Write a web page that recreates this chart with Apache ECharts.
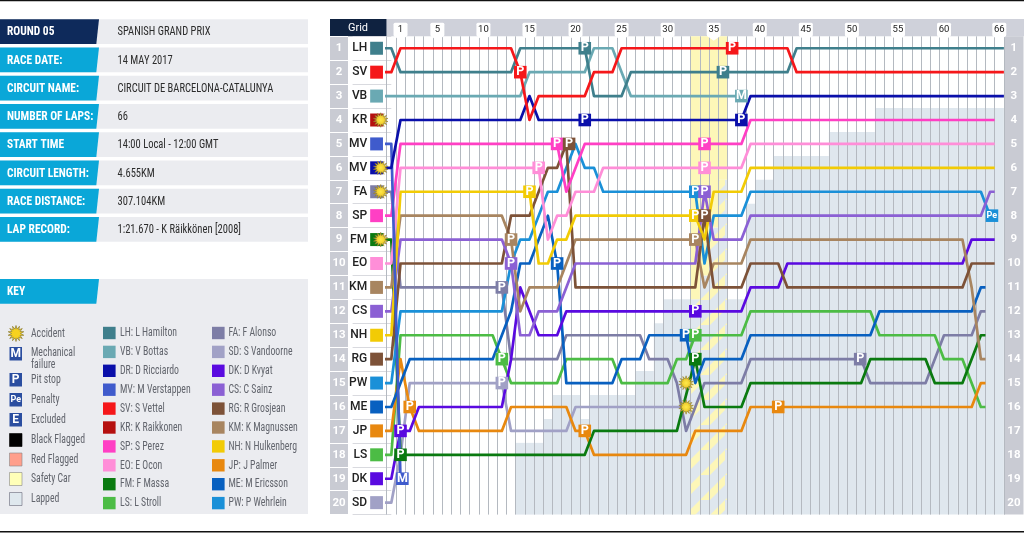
<!DOCTYPE html>
<html><head><meta charset="utf-8">
<style>html,body{margin:0;padding:0;background:#fff}#c{width:1024px;height:533px}</style>
<script src="https://cdn.jsdelivr.net/npm/echarts@6/dist/echarts.min.js"></script>
</head><body><div id="c"></div>
<script>
// ---------- data ----------
const gridCodes = ['LH','SV','VB','KR','MV','MV','FA','SP','FM','EO','KM','CS','NH','RG','PW','ME','JP','LS','DK','SD'];
const gridDrivers = ['LH','SV','VB','KR','MV','DR','FA','SP','FM','EO','KM','CS','NH','RG','PW','ME','JP','LS','DK','SD'];
const lapTicks = [1,5,10,15,20,25,30,35,40,45,50,55,60,66];
const colors = {LH:'#3f7f8c',VB:'#6aa9b3',DR:'#0a0faa',MV:'#3f5bcc',SV:'#f5171a',KR:'#b5100f',SP:'#ff3fc4',EO:'#ff8ed8',FM:'#0a7a10',LS:'#4cbc45',
                FA:'#7d7da6',SD:'#a1a1c6',DK:'#5a0ae0',CS:'#8b60d4',RG:'#7d5238',KM:'#a88560',NH:'#f2cb05',JP:'#e8880f',ME:'#0860c0',PW:'#1a90d8'};

// [lap, position] at each change of position
const LH=[[0,1],[1,2],[13,2],[14,1],[21,1],[22,3],[25,3],[26,2],[43,2],[44,1],[66.5,1]];
const SV=[[0,2],[1,1],[13,1],[14,2],[15,4],[16,3],[21,3],[22,2],[24,2],[25,1],[43,1],[44,2],[66.5,2]];
const VB=[[0,3],[14,3],[15,2],[21,2],[22,1],[24,1],[25,2],[26,3],[38,3]];
const DR=[[0,6],[1,4],[14,4],[15,3],[16,4],[38,4],[39,3],[66.5,3]];
const MV=[[0,5],[1,19]];
const FA=[[0,7],[1,11],[12,11],[13,14],[18,14],[19,13],[27,13],[28,14],[30,14],[31,15],[32,17],[33,16],[34,15],[38,15],[39,14],[51,14],[52,15],[58,15],[60,13],[63,13],[64,12],[64.5,12]];
const SD=[[0,20],[1,18],[2,15],[12,15],[13,17],[19,17],[20,16],[32,16]];
const DK=[[0,19],[1,17],[2,17],[3,16],[12,16],[13,14],[14,11],[15,12],[16,13],[18,13],[19,12],[38,12],[39,11],[42,11],[43,10],[62,10],[63,9],[65.5,9]];
const CS=[[0,12],[1,9],[12,9],[13,10],[14,13],[15,13],[16,12],[18,12],[19,11],[20,10],[33,10],[34,7],[35,9],[38,9],[39,8],[64,8],[65,7],[65.5,7]];
const RG=[[0,14],[1,10],[12,10],[13,8],[15,8],[16,7],[17,6],[18,6],[19,5],[20,11],[33,11],[34,8],[35,11],[38,11],[39,10],[42,10],[43,11],[62,11],[63,10],[65.5,10]];
const KM=[[0,11],[1,8],[12,8],[13,9],[14,12],[15,11],[18,11],[19,10],[20,9],[33,9],[34,11],[35,10],[38,10],[39,9],[62,9],[63,11],[64,14],[64.5,14]];
const NH=[[0,13],[1,7],[15,7],[16,10],[17,10],[18,9],[19,9],[20,8],[33,8],[34,9],[35,7],[38,7],[39,6],[65.5,6]];
const JP=[[0,17],[1,14],[2,16],[3,17],[12,17],[13,16],[19,16],[20,17],[21,17],[22,18],[32,18],[33,17],[38,17],[39,16],[63,16],[64,15],[64.5,15]];
const ME=[[0,16],[1,15],[2,14],[11,14],[12,13],[13,12],[14,10],[15,10],[16,9],[17,8],[18,10],[19,15],[24,15],[25,14],[27,14],[28,13],[32,13],[33,15],[34,14],[38,14],[39,13],[52,13],[53,12],[63,12],[64,11],[64.5,11]];
const PW=[[0,15],[1,12],[12,12],[13,10],[14,9],[15,9],[16,8],[17,7],[18,7],[19,6],[20,5],[21,6],[22,6],[23,7],[33,7],[34,10],[35,8],[38,8],[39,7],[64,7],[65,8],[65.5,8]];
const LS=[[0,18],[1,13],[11,13],[12,14],[13,15],[18,15],[19,14],[24,14],[25,15],[30,15],[31,14],[32,14],[33,13],[38,13],[39,12],[52,12],[53,13],[59,13],[60,14],[62,14],[64,16],[64.5,16]];
const EO=[[0,10],[1,6],[16,6],[17,9],[18,8],[19,8],[20,7],[22,7],[23,6],[38,6],[39,5],[65.5,5]];
const SP=[[0,8],[1,5],[18,5],[19,7],[21,5],[38,5],[39,4],[65.5,4]];
const FM=[[0,9],[1,18],[21,18],[22,17],[31,17],[33,14],[34,16],[38,16],[39,15],[51,15],[52,14],[58,14],[59,15],[62,15],[64,13],[64.5,13]];
const driverLines = {SD,FA,LS,JP,FM,ME,PW,DK,KM,RG,CS,NH,EO,SP,MV,DR,VB,LH,SV};

// [driver, lap, position, letter]
const stops = [['SV',14,2,'P'],['SV',37,1,'P'],['LH',21,1,'P'],['LH',36,2,'P'],['DR',21,4,'P'],['DR',38,4,'P'],['SP',18,5,'P'],['SP',34,5,'P'],
 ['EO',16,6,'P'],['EO',34,6,'P'],['NH',15,7,'P'],['NH',33,8,'P'],['PW',33,7,'P'],['CS',34,7,'P'],['RG',34,8,'P'],['KM',33,9,'P'],['KM',13,9,'P'],
 ['CS',13,10,'P'],['RG',19.3,5,'P'],['ME',18,10,'P'],['FA',12,11,'P'],['DK',33,12,'P'],['ME',32,13,'P'],['LS',33,13,'P'],['FM',33,14,'P'],
 ['LS',12,14,'P'],['SD',12,15,'P'],['JP',2,16,'P'],['DK',1,17,'P'],['FM',1,18,'P'],['JP',21,17,'P'],['JP',42,16,'P'],['FA',50.9,14,'P'],
 ['MV',1.2,19,'M'],['VB',38,3,'M'],['PW',65.2,8,'Pe']];
const accidents = [[-1.15,4],[-1.15,6],[-1.15,7],[-1.15,9],[32,15],[32,16]];

const lappedLaps = [14,15,16,17,18,19,20,21,22,23,24,25,26,27,28,29,30,31,32,33,34,35,36,37,38,39,40,41,42,43,44,45,46,47,48,49,50,51,52,53,54,55,56,57,58,59,60,61,62,63,64,65,66];
const lappedTop  = [17.5,17.5,17.5,16.5,15.5,15.5,15.5,16.5,15.5,15.5,15.5,15.5,15.5,14.5,14.5,12.5,11.5,11.5,11.5,11.5,10.5,8.5,6.5,11.5,11.5,7.5,6.5,6.5,5.5,5.5,5.5,5.5,5.5,5.5,4.5,4.5,4.5,4.5,4.5,3.5,3.5,3.5,3.5,3.5,3.5,3.5,3.5,3.5,3.5,3.5,3.5,3.5,3.5];
const safetyCarLaps = [33,34,35,36];

const infoRows = [['ROUND 05','SPANISH GRAND PRIX'],['RACE DATE:','14 MAY 2017'],['CIRCUIT NAME:','CIRCUIT DE BARCELONA-CATALUNYA'],['NUMBER OF LAPS:','66'],
 ['START TIME','14:00 Local - 12:00 GMT'],['CIRCUIT LENGTH:','4.655KM'],['RACE DISTANCE:','307.104KM'],['LAP RECORD:','1:21.670 - K Räikkönen [2008]']];
const keyCol2 = [['LH','LH: L Hamilton'],['VB','VB: V Bottas'],['DR','DR: D Ricciardo'],['MV','MV: M Verstappen'],['SV','SV: S Vettel'],['KR','KR: K Raikkonen'],['SP','SP: S Perez'],['EO','EO: E Ocon'],['FM','FM: F Massa'],['LS','LS: L Stroll']];
const keyCol3 = [['FA','FA: F Alonso'],['SD','SD: S Vandoorne'],['DK','DK: D Kvyat'],['CS','CS: C Sainz'],['RG','RG: R Grosjean'],['KM','KM: K Magnussen'],['NH','NH: N Hulkenberg'],['JP','JP: J Palmer'],['ME','ME: M Ericsson'],['PW','PW: P Wehrlein']];
const keyCol1 = [['M','Mechanical',354],['P','Pit stop',380],['Pe','Penalty',400],['E','Excluded',420]];
const keySwatches = [['#000000','#000','Black Flagged',440],['#ff9f8c','#888','Red Flagged',459.5],['#ffffb8','#888','Safety Car',479],['#dfe8ee','#667','Lapped',499]];

// ---------- helpers ----------
const NARROW = '"Roboto Condensed","Liberation Sans",sans-serif';
const UI = 'Roboto,"Open Sans",sans-serif';
const starUnit=[];for(let i=0;i<28;i++){const r=i%2?5.6:10,a=i*Math.PI/14;starUnit.push([r*Math.sin(a),-r*Math.cos(a)]);}
const starPath='path://'+starUnit.map((p,i)=>(i?'L':'M')+(10+p[0]).toFixed(2)+' '+(10+p[1]).toFixed(2)).join(' ')+' Z';

const el=[];
const rect=(x,y,w,h,fill,stroke)=>el.push({type:'rect',z:-10,shape:{x,y,width:w,height:h},style:stroke?{fill,stroke,lineWidth:.6}:{fill},silent:true});
const txt=(x,y,t,o,sx)=>el.push({type:'text',z:-5,x,y,scaleX:sx||1,silent:true,style:Object.assign({text:t,fill:'#333',font:'12px '+NARROW,verticalAlign:'middle'},o||{})});
const slant=(y,h,fill)=>el.push({type:'polygon',z:-8,silent:true,shape:{points:[[0,y],[99,y],[96.3,y+h],[0,y+h]]},style:{fill}});

rect(0,0,1024,1.2,'#111');rect(0,531,1024,1.6,'#111');

infoRows.forEach((r,i)=>{
  const y=19.3+i*28.25,h=24.7;
  rect(0,y,308,h,'#ebecf0');
  slant(y,h,i===0?'#0e2a5b':'#0aa7d8');
  txt(7,y+h/2+0.5,r[0],{fill:'#fff',font:'bold 13px '+NARROW},.88);
  txt(117.5,y+h/2+0.5,r[1],{fill:'#2c2c2c',font:'13px '+NARROW},.81);
});
rect(0,279,308,235,'#ebecf0');slant(279,24.7,'#0aa7d8');
txt(7,291.5,'KEY',{fill:'#fff',font:'bold 13px '+NARROW},.88);
const keyText={fill:'#62656d',font:'13px '+NARROW};
const KS=.75;
el.push({type:'polygon',z:-5,silent:true,x:16,y:333.5,shape:{points:starUnit.map(p=>[p[0]*.8,p[1]*.8])},style:{fill:'#f6d21f',stroke:'#8a7a30',lineWidth:.7}});
txt(31,334,'Accident',keyText,KS);
keyCol1.forEach(k=>{
  rect(9.5,k[2]-7,12.5,13.5,'#2b4ea0');
  txt(15.7,k[2]-.2,k[0],{fill:'#fff',font:'bold '+(k[0]==='Pe'?9:12)+'px Roboto',align:'center'});
  txt(31,k[0]==='M'?k[2]-1:k[2],k[1],keyText,KS);
  if(k[0]==='M')txt(31,k[2]+11,'failure',keyText,KS);
});
keySwatches.forEach(k=>{rect(9.5,k[3]-6.5,12.5,13,k[0],k[1]);txt(31,k[3],k[2],keyText,KS);});
[[keyCol2,103,120],[keyCol3,212,228.5]].forEach(([col,bx,tx])=>col.forEach((k,i)=>{
  const y=333+i*18.9;
  rect(bx,y-6.2,12.6,12.4,colors[k[0]]);
  txt(tx,y,k[1],keyText,KS);
}));

rect(330,19,56.7,17.3,'#0f2240');
txt(358,27.8,'Grid',{fill:'#fff',font:'11px '+UI,align:'center'});
rect(386.7,19,637.3,17.3,'#cfd1da');
rect(330,36.3,18,478.3,'#c9cbd3');
rect(1004,36.3,19.5,478.3,'#c9cbd3');

const pc=document.createElement('canvas');pc.width=pc.height=25;
{const g=pc.getContext('2d');g.fillStyle='#fdf7b8';
 [[0,0],[25,0],[0,25],[-25,0],[0,-25]].forEach(([dx,dy])=>{g.beginPath();g.moveTo(dx+0,dy+25);g.lineTo(dx+25,dy+0);g.lineTo(dx+25,dy+10);g.lineTo(dx+10,dy+25);g.closePath();g.fill();});}

const lappedLookup=l=>lappedTop[lappedLaps.indexOf(l)];

const series=[];
series.push({type:'custom',xAxisIndex:1,yAxisIndex:3,z:1,silent:true,data:lappedLaps.map((l,i)=>[l,lappedTop[i]]),
  renderItem:(p,api)=>{const a=api.coord([api.value(0)-.5,api.value(1)]),b=api.coord([api.value(0)+.5,20.5]);
    return {type:'rect',shape:{x:a[0],y:a[1],width:b[0]-a[0],height:b[1]-a[1]},style:{fill:'#dfe7ee'}};}});
series.push({type:'custom',xAxisIndex:1,yAxisIndex:3,z:1,silent:true,data:safetyCarLaps.map(l=>[l,lappedLookup(l)]),
  renderItem:(p,api)=>{const l=api.value(0),t=api.value(1);
    const a=api.coord([l-.5,.5]),b=api.coord([l+.5,t]),c=api.coord([l+.5,20.5]);
    return {type:'group',children:[
      {type:'rect',shape:{x:a[0],y:a[1],width:b[0]-a[0],height:b[1]-a[1]},style:{fill:'#fdf7b8'}},
      {type:'rect',shape:{x:a[0],y:b[1],width:b[0]-a[0],height:c[1]-b[1]},style:{fill:{image:pc,repeat:'repeat'}}}
    ]};}});
Object.keys(driverLines).forEach((d,i)=>{
  const pts=driverLines[d];
  series.push({type:'line',name:d,xAxisIndex:1,yAxisIndex:3,z:3+i*0.01,clip:false,showSymbol:false,symbol:'none',silent:true,animation:false,
    data:[[-0.9,pts[0][1]]].concat(pts),lineStyle:{color:colors[d],width:2.7,join:'round',cap:'butt'},itemStyle:{color:colors[d]}});
});
series.push({type:'scatter',xAxisIndex:1,yAxisIndex:3,z:4,clip:false,silent:true,symbol:'rect',symbolSize:[12.8,13],
  data:gridDrivers.map((d,i)=>({value:[-1.6,i+1],itemStyle:{color:colors[d],opacity:1}}))});
series.push({type:'scatter',xAxisIndex:1,yAxisIndex:3,z:5,clip:false,silent:true,symbol:'rect',symbolSize:[12.6,12.6],
  data:stops.map(s=>({value:[s[1],s[2]],itemStyle:{color:colors[s[0]],opacity:1},
    label:{show:true,position:'inside',formatter:s[3],color:'#fff',fontFamily:UI,fontWeight:'bold',fontSize:s[3]==='Pe'?9:12.5}}))});
series.push({type:'scatter',xAxisIndex:1,yAxisIndex:3,z:6,clip:false,silent:true,symbol:starPath,symbolSize:14.5,
  itemStyle:{opacity:1,color:{type:'radial',x:.5,y:.5,r:.55,colorStops:[{offset:0,color:'#ffe94a'},{offset:1,color:'#e0b010'}]},borderColor:'#8a7a30',borderWidth:.6},data:accidents});
series.push({type:'scatter',xAxisIndex:1,yAxisIndex:3,z:2,clip:false,silent:true,symbol:'triangle',symbolRotate:180,symbolSize:[14,5],symbolOffset:[0,2],
  itemStyle:{color:'#fff',opacity:1},data:lapTicks.map(l=>[l,.5])});

const lapCats=Array.from({length:67},(_,i)=>String(i));
const option={
  animation:false,backgroundColor:'#fff',
  graphic:{elements:el},
  grid:{left:386.7,right:20.1,top:36.3,bottom:18.4,containLabel:false,show:false},
  xAxis:[
    {type:'category',position:'top',data:lapCats,boundaryGap:true,z:2,
     axisLine:{show:false},axisTick:{show:false},
     splitLine:{show:true,interval:0,lineStyle:{color:'#b4b9c0',width:1}},
     axisLabel:{show:true,margin:0,interval:(i)=>lapTicks.includes(i),fontFamily:UI,fontSize:9.5,color:'#222',backgroundColor:'#fff',
       width:14,align:'center',padding:[1,0,0,0],lineHeight:12.5,borderRadius:1.5}},
    {type:'value',show:false,min:-0.5,max:66.5,position:'top'}
  ],
  yAxis:[
    {type:'category',inverse:true,position:'left',data:gridCodes,axisLine:{show:false},splitLine:{show:false},
     axisTick:{show:true,length:38.7,lineStyle:{color:'#d9dadf',width:1}},
     axisLabel:{margin:19.5,fontFamily:UI,fontSize:12,fontWeight:500,color:'#222',align:'right'}},
    {type:'category',inverse:true,position:'left',offset:38.7,data:gridCodes.map((_,i)=>String(i+1)),axisLine:{show:false},splitLine:{show:false},
     axisTick:{show:true,length:18,lineStyle:{color:'#fff',width:1}},
     axisLabel:{margin:9,fontFamily:UI,fontSize:11.5,fontWeight:'bold',color:'#fff',align:'center'}},
    {type:'category',inverse:true,position:'right',data:gridCodes.map((_,i)=>String(i+1)),axisLine:{show:false},axisTick:{show:false},splitLine:{show:false},
     axisLabel:{margin:10,fontFamily:UI,fontSize:11.5,fontWeight:'bold',color:'#fff',align:'center'}},
    {type:'value',show:false,inverse:true,min:.5,max:20.5,position:'left'}
  ],
  series
};
const chart=echarts.init(document.getElementById('c'),null,{renderer:'canvas',width:1024,height:533});
chart.setOption(option);
</script></body></html>
